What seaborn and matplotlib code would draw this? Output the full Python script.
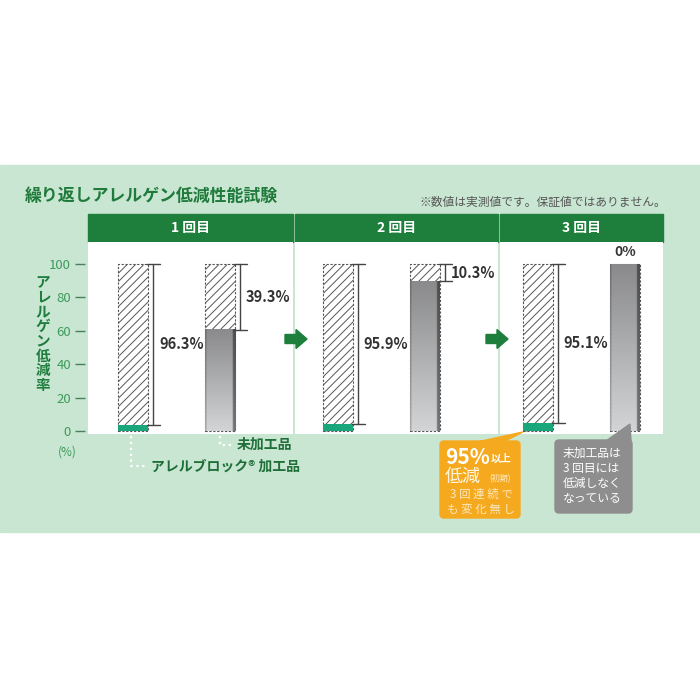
import numpy as np
import pandas as pd
import seaborn as sns
import matplotlib.pyplot as plt
from matplotlib.patches import Rectangle, FancyBboxPatch, Polygon, FancyArrow

sns.set_style('white')
plt.rcParams['font.family'] = ['Noto Sans CJK JP', 'DejaVu Sans']
plt.rcParams['hatch.linewidth'] = 0.7

# data
rounds = ['1 回目', '2 回目', '3 回目']
samples = ['アレルブロック加工品', '未加工品']
treated_cut = [96.3, 95.9, 95.1]      # 低減率 (%)
untreated_cut = [39.3, 10.3, 0.0]
yticks = [0, 20, 40, 60, 80, 100]

W = H = 700
fig = plt.figure(figsize=(7, 7), dpi=100)


def box(l, t, r, b):
    # pixel box -> figure fraction
    return [l / W, 1 - b / H, (r - l) / W, (b - t) / H]


bg = fig.add_axes([0, 0, 1, 1], zorder=0)
bg.set_xlim(0, W)
bg.set_ylim(H, 0)
bg.axis('off')
bg.add_patch(Rectangle((0, 165), W, 367, color='#c8e6d1'))

bg.text(25, 196, '繰り返しアレルゲン低減性能試験', fontsize=12.2, fontweight='bold',
        color='#1f7a3b', va='center')
bg.text(666, 202, '※数値は実測値です。保証値ではありません。', fontsize=8.5,
        color='#555555', ha='right', va='center')

panel_x = [(88, 293, 45), (295, 498, 43), (500, 663, 38)]
top, bottom = 242, 434
unit = 87
bw = 30 / unit
ylo, yhi = -1.8, 113.2

for i, (l, r, off) in enumerate(panel_x):
    bg.add_patch(Rectangle((l, 214), r - l, top - 214, color='#1e7f3d'))
    bg.text((l + r) / 2, 228, rounds[i], ha='center', va='center', color='white',
            fontsize=10, fontweight='bold')

    ax = fig.add_axes(box(l, top, r, bottom), zorder=2)
    ax.set_facecolor('white')
    remain = [100 - treated_cut[i], 100 - untreated_cut[i]]
    df = pd.DataFrame({'sample': samples, 'full': [100, 100], 'remain': remain})
    sns.barplot(df, x='sample', y='full', ax=ax, color='white', edgecolor='#555555',
                linewidth=0.8, linestyle=(0, (2, 1.5)), hatch='////', width=bw,
                errorbar=None, saturation=1)
    n = len(ax.patches)
    sns.barplot(df, x='sample', y='remain', hue='sample',
                palette=['#19a67b', '#a3a3a3'], ax=ax, width=bw, errorbar=None,
                legend=False, linewidth=0, saturation=1)

    # gradient on the untreated bar
    gray = [p for p in ax.patches[n:] if abs(p.get_x() + p.get_width() / 2 - 1) < 0.1][0]
    x0 = gray.get_x()
    x1 = x0 + gray.get_width()
    t = np.linspace(0, 1, 80)[:, None, None]
    img = np.array([138, 138, 140]) / 255 * (1 - t) + np.array([210, 212, 214]) / 255 * t
    img = np.repeat(img, 20, axis=1)
    img[:, -2:, :] *= 0.55
    img[:, :1, :] *= 0.8
    ax.imshow(img, extent=[x0, x1, 0, gray.get_height()], aspect='auto',
              zorder=gray.get_zorder() + 0.1, interpolation='bilinear')

    # brackets and labels
    for j, (cut, rem) in enumerate(zip([treated_cut[i], untreated_cut[i]], remain)):
        if cut == 0:
            ax.text(j, 107.5, f'{cut:.0f}%', ha='center', va='center', fontsize=10,
                    fontweight='bold', color='#333333')
            continue
        bx = j + bw / 2 + 0.06
        ax.plot([bx, bx], [rem, 100], color='#444444', lw=1)
        for yv in (rem, 100):
            ax.plot([bx - 0.075, bx + 0.075], [yv, yv], color='#444444', lw=1)
        ax.text(bx + 0.065, (rem + 100) / 2, f'{cut:.1f}%', ha='left', va='center',
                fontsize=10.5, fontweight='bold', color='#333333')

    ax.set_xlim(-off / unit, -off / unit + (r - l) / unit)
    ax.set_ylim(ylo, yhi)
    ax.set(xlabel='', ylabel='', xticks=[], yticks=[])
    for s in ax.spines.values():
        s.set_visible(False)

# y scale
sc = fig.add_axes(box(85, top, 85.2, bottom), zorder=1)
sc.set_ylim(ylo, yhi)
sc.set_yticks(yticks)
sc.set_xticks([])
for s in sc.spines.values():
    s.set_visible(False)
sc.patch.set_alpha(0)
sc.tick_params(axis='y', length=7, width=1, color='#4d7f5f', labelcolor='#3d9a5a',
               labelsize=9.5, pad=3, left=True)
bg.text(67, 452, '(%)', ha='center', va='center', fontsize=8.5, color='#3d9a5a')
for k, ch in enumerate('アレルゲン低減率'):
    bg.text(43, 282 + k * 14.7, ch, ha='center', va='center', fontsize=10.5,
            fontweight='bold', color='#1f7d3f')

# overlay: arrows, legend labels, callouts
fg = fig.add_axes([0, 0, 1, 1], zorder=5)
fg.set_xlim(0, W)
fg.set_ylim(H, 0)
fg.axis('off')
for ax0 in (285, 486):
    fg.add_patch(FancyArrow(ax0, 339, 22, 0, width=9, head_width=19, head_length=11,
                            length_includes_head=True, color='#1e7f3d'))

fg.plot([131, 131, 148], [436, 466, 466], color='white', ls=':', lw=1.6)
fg.plot([220, 220, 234], [436, 445, 445], color='white', ls=':', lw=1.6)
fg.text(237, 445, '未加工品', fontsize=10, fontweight='bold', color='#1e6e38', va='center')
fg.text(151, 467, 'アレルブロック® 加工品', fontsize=10, fontweight='bold',
        color='#1e6e38', va='center')

orange = '#f5a91f'
fg.add_patch(FancyBboxPatch((440, 441), 80, 77, boxstyle='round,pad=0,rounding_size=4',
                            color=orange))
fg.add_patch(Polygon([(477, 442), (523, 432), (503, 442)], color=orange))
fg.text(445, 457, '95%', fontsize=15, fontweight='bold', color='white', va='center')
fg.text(491, 459, '以上', fontsize=7.5, fontweight='bold', color='white', va='center')
fg.text(445, 477, '低減', fontsize=13, color='#fff6e0', va='center')
fg.text(489, 479, '(初期)', fontsize=5.8, color='#fff0d0', va='center')
fg.text(481, 494, '3 回 連 続 で', fontsize=8.3, color='#fde7bd', ha='center', va='center')
fg.text(481, 509, 'も 変 化 無 し', fontsize=8.3, color='#fde7bd', ha='center', va='center')

grey = '#8e8e8e'
fg.add_patch(FancyBboxPatch((555, 440), 77, 73, boxstyle='round,pad=0,rounding_size=4',
                            color=grey))
fg.add_patch(Polygon([(606, 441), (630, 424), (631, 441)], color=grey))
for k, line in enumerate(['未加工品は', '3 回目には', '低減しなく', 'なっている']):
    fg.text(563, 453 + k * 15.3, line, fontsize=8.5, color='white', va='center')

fig.savefig('out.png', dpi=100)
